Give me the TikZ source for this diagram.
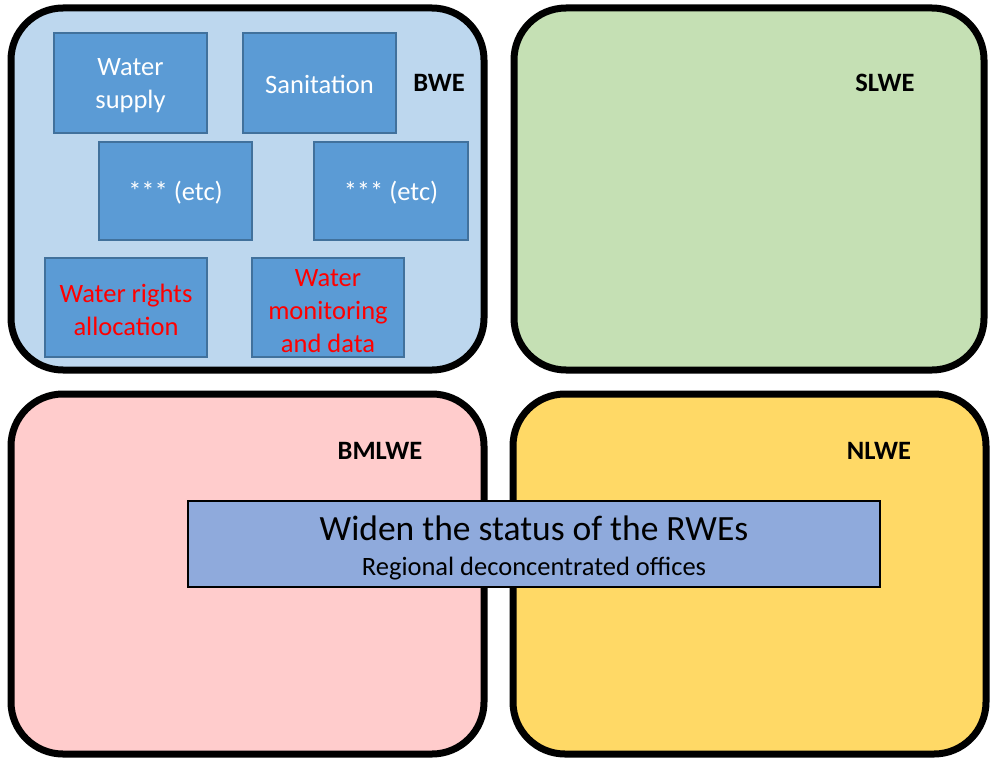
\documentclass[tikz,border=0pt]{standalone}
\usepackage{fontspec}
\setmainfont{Carlito}
\definecolor{bweblue}{HTML}{BDD7EE}
\definecolor{slgreen}{HTML}{C5E0B4}
\definecolor{bmpink}{HTML}{FFCCCC}
\definecolor{nlyellow}{HTML}{FFD966}
\definecolor{innerblue}{HTML}{5B9BD5}
\definecolor{innerborder}{HTML}{41719C}
\definecolor{midblue}{HTML}{8FAADC}
\definecolor{redtxt}{HTML}{FF0000}
\begin{document}
\begin{tikzpicture}[x=1pt,y=-1pt,
  region/.style={draw=black,line width=7pt,rounded corners=52pt,inner sep=0pt},
  unit/.style={fill=innerblue,draw=innerborder,line width=1.5pt,inner sep=2pt,align=center,
    font=\fontsize{26.5}{33}\selectfont,text=white},
  redunit/.style={unit,text=redtxt},
  utext/.style={inner sep=0pt,align=center,font=\fontsize{26.5}{33}\selectfont,text=white},
  lbl/.style={font=\fontsize{26.5}{30}\selectfont\bfseries,inner sep=0pt},
  band/.style={fill=midblue,draw=black,line width=2.5pt,inner sep=0pt,align=center}]
\useasboundingbox (0,0) rectangle (990,760);
\fill[white] (0,0) rectangle (990,760);
\node[region,fill=bweblue,minimum width=473pt,minimum height=362pt] (bwe) at (247.5,189) {};
\node[region,fill=slgreen,minimum width=470pt,minimum height=362pt] (slwe) at (749,189) {};
\node[region,fill=bmpink,minimum width=473pt,minimum height=360pt] (bmlwe) at (247.5,574) {};
\node[region,fill=nlyellow,minimum width=473pt,minimum height=360pt] (nlwe) at (749.5,574) {};
\node[lbl] (lbwe) at (439,83) {BWE};
\node[lbl] (lslwe) at (885,83) {SLWE};
\node[lbl] (lbmlwe) at (380,451) {BMLWE};
\node[lbl] (lnlwe) at (879,451) {NLWE};
\node[unit,minimum width=153pt,minimum height=100pt] (ws) at (130.5,83) {};
\node[utext] (wst) at (130.5,86) {Water\\supply};
\node[unit,minimum width=153pt,minimum height=100pt] (san) at (319.5,83) {};
\node[utext] (sant) at (319.5,84) {Sanitation};
\node[unit,minimum width=153pt,minimum height=98pt] (etca) at (175.5,191) {};
\node[utext] (etcat) at (175.5,193) {*** (etc)};
\node[unit,minimum width=154pt,minimum height=98pt] (etcb) at (391,191) {};
\node[utext] (etcbt) at (391,193) {*** (etc)};
\node[redunit,minimum width=162pt,minimum height=99pt] (wr) at (126,307.5) {};
\node[utext,text=redtxt] (wrt) at (126,309.5) {Water rights\\allocation};
\node[redunit,minimum width=152pt,minimum height=99pt] (wm) at (328,307.5) {};
\node[utext,text=redtxt] (wmt) at (328,311) {Water\\monitoring\\and data};
\node[band,minimum width=692pt,minimum height=86pt] (mid) at (534,544) {};
\node[font=\fontsize{35.5}{40}\selectfont,inner sep=0pt] (title) at (534,528) {Widen the status of the RWEs};
\node[font=\fontsize{26.5}{30}\selectfont,inner sep=0pt] (sub) at (534,568.5) {Regional deconcentrated offices};
\end{tikzpicture}
\end{document}
